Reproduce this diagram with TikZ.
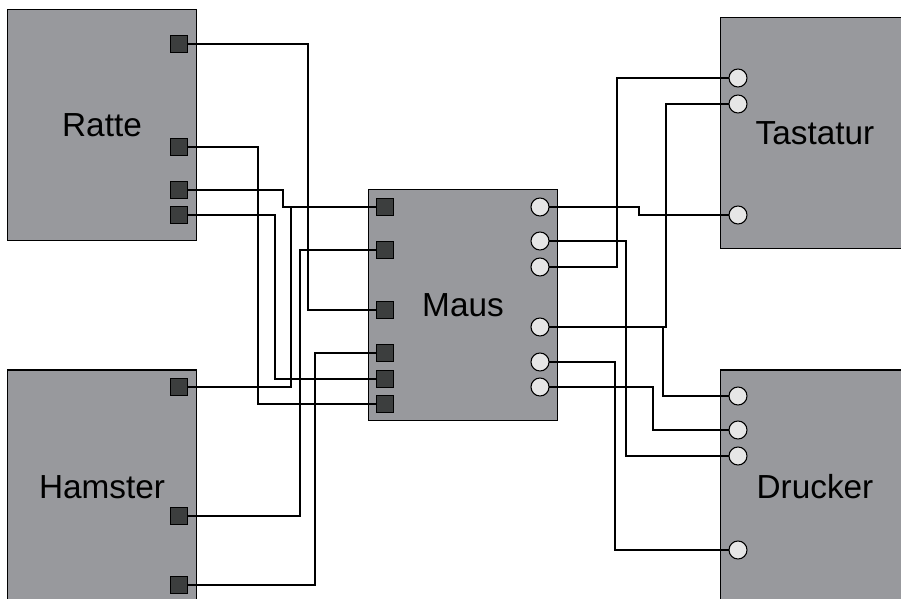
\documentclass[tikz,border=0pt]{standalone}
\usepackage{fontspec}
\setmainfont{Liberation Sans}
\usetikzlibrary{positioning}
\definecolor{BoxGray}{RGB}{152,153,157}
\definecolor{PortDark}{RGB}{60,62,62}
\definecolor{PortLight}{RGB}{230,230,230}
\tikzset{
  unit/.style={draw=black,fill=BoxGray,line width=0.9pt,inner sep=0pt,outer sep=0pt,
    minimum width=141.75pt,font=\fontsize{25}{30}\selectfont},
  sq/.style={draw=black,fill=PortDark,line width=0.8pt,inner sep=0pt,outer sep=0pt,minimum size=13pt},
  rd/.style={circle,draw=black,fill=PortLight,line width=0.8pt,inner sep=0pt,outer sep=0pt,minimum size=13.5pt},
  wire/.style={draw=black,line width=1.1pt},
}
\begin{document}
\begin{tikzpicture}[x=0.75pt,y=-0.75pt]
  \useasboundingbox (0,0) rectangle (901,599);
  \clip (0,0) rectangle (901,599);
  % units
  \node[unit,minimum height=173.25pt] (ratte) at (102,125) {Ratte};
  \node[unit,minimum height=175.5pt] (hamster) at (102,487) {Hamster};
  \node[unit,minimum height=173.5pt] (maus) at (463,305) {Maus};
  \node[unit,minimum height=173.25pt] (tastatur) at (815,133.25) {Tastatur};
  \node[unit,minimum height=175.5pt] (drucker) at (815,487) {Drucker};
  % ports
  \foreach \n/\x/\y in {r1/179/44, r2/179/147, r3/179/190, r4/179/215,
      h1/179/387, h2/179/516, h3/179/585,
      m1/385/207, m2/385/250, m3/385/310, m4/385/353, m5/385/379, m6/385/404}
    \node[sq] (\n) at (\x,\y) {};
  \foreach \n/\x/\y in {mo1/540/207, mo2/540/241, mo3/540/267, mo4/540/327, mo5/540/362, mo6/540/387,
      t1/738/78, t2/738/104, t3/738/215,
      d1/738/396, d2/738/430, d3/738/456, d4/738/550}
    \node[rd] (\n) at (\x,\y) {};
  % wires
  \foreach \a/\c/\b in {r1/{308,310}/m3, r2/{258,404}/m6, r3/{283,207}/m1,
      r4/{275,379}/m5, h2/{300,250}/m2, h3/{315,353}/m4}
    \draw[wire] (\a.east) -| (\c) -- (\b.west);
  \draw[wire] (h1.east) -| (291,207);
  \foreach \a/\c/\b in {mo1/{639,215}/t3, mo2/{626,456}/d3, mo3/{617,78}/t1,
      mo4/{666,104}/t2, mo4/{663,396}/d1, mo5/{615,550}/d4, mo6/{653,430}/d2}
    \draw[wire] (\a.east) -| (\c) -- (\b.west);
\end{tikzpicture}
\end{document}
